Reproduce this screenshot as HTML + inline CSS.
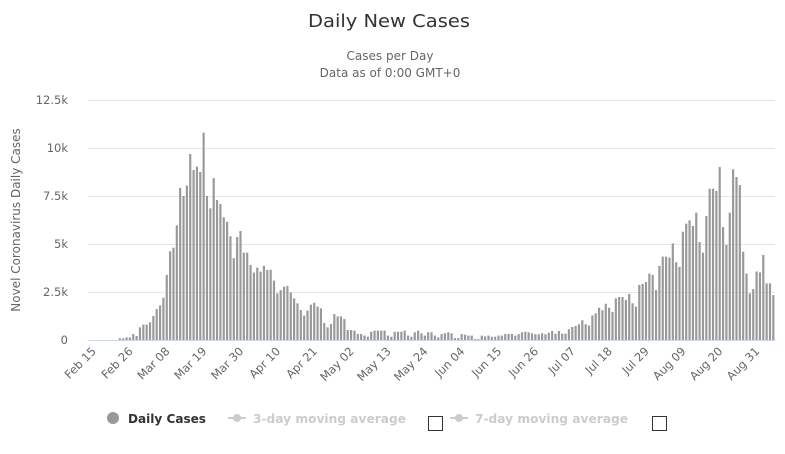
<!DOCTYPE html>
<html><head><meta charset="utf-8"><style>
body{margin:0;background:#fff;font-family:"DejaVu Sans",sans-serif;}
svg text{font-family:"DejaVu Sans",sans-serif;}
</style></head><body>
<svg id="c" width="785" height="450" xmlns="http://www.w3.org/2000/svg">
<text x="389" y="27" text-anchor="middle" font-size="18" fill="#333" textLength="162" lengthAdjust="spacingAndGlyphs">Daily New Cases</text>
<text x="390" y="60" text-anchor="middle" font-size="12" fill="#666">Cases per Day</text>
<text x="390" y="77" text-anchor="middle" font-size="12" fill="#666">Data as of 0:00 GMT+0</text>
<text transform="translate(20,220) rotate(-90)" text-anchor="middle" font-size="12" fill="#666">Novel Coronavirus Daily Cases</text>
<g id="grid"></g><g id="bars"></g><g id="xl"></g>
<circle cx="113" cy="418" r="6" fill="#999"/>
<text x="128" y="423" font-size="12" font-weight="bold" fill="#333" textLength="78" lengthAdjust="spacingAndGlyphs">Daily Cases</text>
<line x1="228" y1="418" x2="246" y2="418" stroke="#ccc" stroke-width="2"/><circle cx="237" cy="418" r="4" fill="#ccc"/>
<text x="253" y="423" font-size="12" font-weight="bold" fill="#ccc" textLength="153" lengthAdjust="spacingAndGlyphs">3-day moving average</text>
<rect x="428.5" y="416.5" width="14" height="14" fill="#fff" stroke="#333"/>
<line x1="450" y1="418" x2="468" y2="418" stroke="#ccc" stroke-width="2"/><circle cx="459" cy="418" r="4" fill="#ccc"/>
<text x="475" y="423" font-size="12" font-weight="bold" fill="#ccc" textLength="153" lengthAdjust="spacingAndGlyphs">7-day moving average</text>
<rect x="652.5" y="416.5" width="14" height="14" fill="#fff" stroke="#333"/>
</svg>
<script>
var a=[0,0,0,0,0,0,0,0,0,0.09,0.09,0.14,0.14,0.31,0.21,0.66,0.8,0.8,0.92,1.25,1.61,1.8,2.2,3.39,4.62,4.81,5.97,7.92,7.5,8.05,9.69,8.85,9.03,8.75,10.8,7.5,6.86,8.43,7.29,7.08,6.39,6.15,5.4,4.26,5.36,5.68,4.55,4.55,3.91,3.51,3.77,3.56,3.86,3.65,3.66,3.09,2.43,2.6,2.78,2.81,2.47,2.17,1.91,1.56];
var b=[1.27,1.53,1.84,1.94,1.74,1.65,0.89,0.66,0.83,1.35,1.23,1.23,1.09,0.52,0.52,0.49,0.31,0.31,0.23,0.17,0.43,0.49,0.49,0.49,0.49,0.23,0.17,0.43,0.43,0.43,0.49,0.23,0.17,0.4,0.49,0.35,0.23,0.4,0.4,0.23,0.14,0.31,0.35,0.4,0.35,0.1,0.1,0.31,0.28,0.23,0.23,0.05,0.05,0.23,0.19,0.23,0.17,0.17,0.23,0.23,0.31,0.31,0.31,0.23,0.31,0.4,0.43,0.4,0.35,0.3,0.3,0.35];
var c=[0.3,0.38,0.47,0.33,0.47,0.33,0.33,0.56,0.68,0.73,0.82,1.03,0.82,0.76,1.28,1.39,1.68,1.55,1.89,1.68,1.46,2.17,2.24,2.24,2.08,2.41,1.91,1.74,2.87,2.93,3.02,3.46,3.39,2.6,3.86,4.34,4.34,4.29,5.03,4.05,3.81,5.64,6.06,6.23,5.94,6.63,5.1,4.55,6.46,7.88,7.88,7.76,9.01,5.88,4.95,6.63,8.89,8.49,8.07,4.6,3.46,2.43,2.65,3.57,3.52,4.43,2.95,2.95,2.34];
var d=a.concat(b).concat(c);
var N=d.length,x0=88,W=687,sp=W/N,base=340,ns="http://www.w3.org/2000/svg";
function el(t,at,p,txt){var e=document.createElementNS(ns,t);for(var k in at)e.setAttribute(k,at[k]);if(txt)e.textContent=txt;document.getElementById(p).appendChild(e);}
var yl=["0","2.5k","5k","7.5k","10k","12.5k"];
for(var i=0;i<=5;i++){var y=base-i*48;
 if(i>0)el("line",{x1:x0,x2:775,y1:y+0.5,y2:y+0.5,stroke:"#e6e6e6"},"grid");
 el("text",{x:68,y:y+4,"text-anchor":"end","font-size":11.5,fill:"#666"},"grid",yl[i]);}
el("line",{x1:x0,x2:775,y1:base+0.5,y2:base+0.5,stroke:"#ccd6eb"},"grid");
for(var i=0;i<N;i++){var h=d[i]/2.5*48;if(h<=0)continue;
 el("rect",{x:(x0+i*sp+0.6).toFixed(2),y:(base-h).toFixed(2),width:(sp*0.65).toFixed(2),height:h.toFixed(2),fill:"#999"},"bars");}
var lab=["Feb 15","Feb 26","Mar 08","Mar 19","Mar 30","Apr 10","Apr 21","May 02","May 13","May 24","Jun 04","Jun 15","Jun 26","Jul 07","Jul 18","Jul 29","Aug 09","Aug 20","Aug 31"];
for(var j=0;j<lab.length;j++){var x=x0+(j*11+0.5)*sp;
 el("text",{transform:"translate("+(x+7)+",352) rotate(-45)","text-anchor":"end","font-size":11.5,fill:"#666"},"xl",lab[j]);}
</script>
</body></html>
